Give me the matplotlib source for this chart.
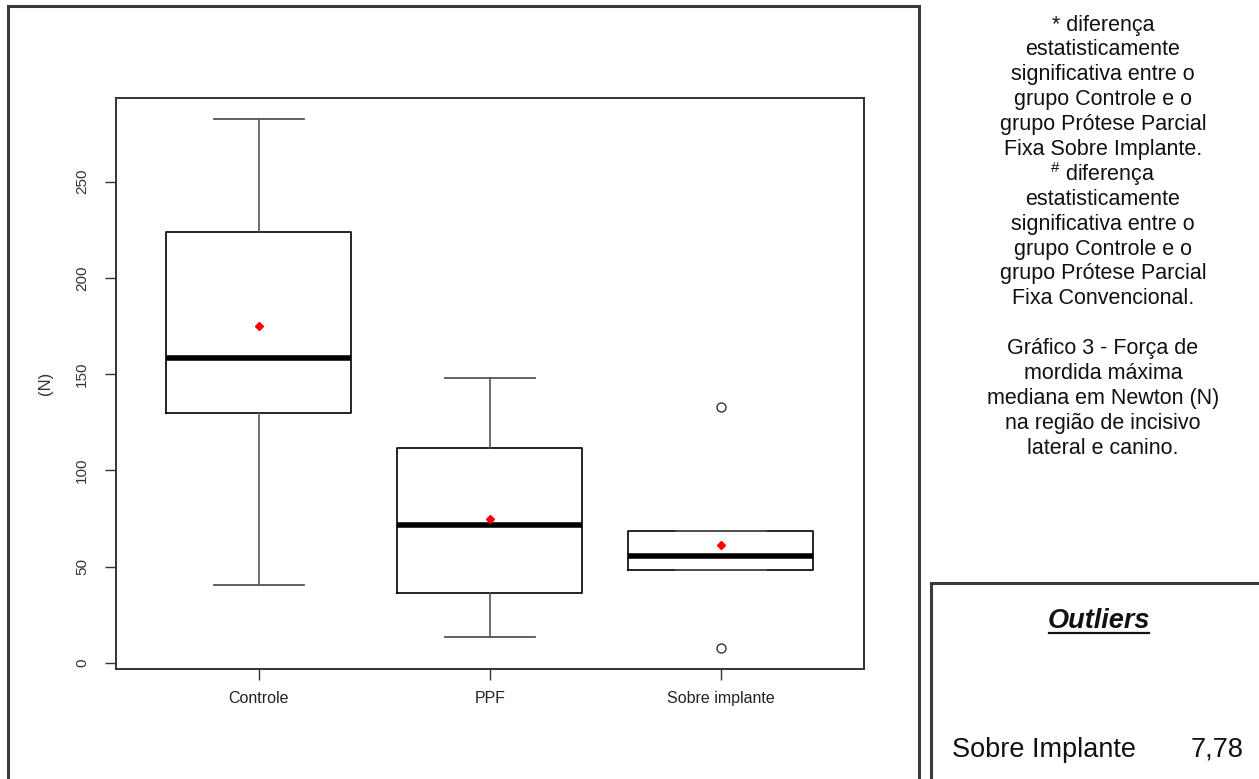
import matplotlib
matplotlib.use("Agg")
import matplotlib.pyplot as plt
from matplotlib.patches import Rectangle
from matplotlib.lines import Line2D

plt.rcParams['font.family'] = ['Liberation Sans', 'DejaVu Sans']
plt.rcParams['mathtext.fontset'] = 'custom'
plt.rcParams['mathtext.rm'] = 'Liberation Sans'

# ---- data ----
groups = ["Controle", "PPF", "Sobre implante"]
whisker_low = [40.4, 13.2, 48.4]
q1 = [129.8, 36.5, 48.4]
median = [158.3, 71.8, 55.4]
mean = [174.9, 74.6, 61.4]
q3 = [223.8, 111.4, 68.4]
whisker_high = [282.4, 148.2, 68.4]
fliers = [[], [], [133.1, 7.78]]
yticks = [0, 50, 100, 150, 200, 250]
ylabel = "(N)"

note_lines = [
    "* diferença", "estatisticamente", "significativa entre o",
    "grupo Controle e o", "grupo Prótese Parcial", "Fixa Sobre Implante.",
    "$^{\\#}$ diferença", "estatisticamente", "significativa entre o",
    "grupo Controle e o", "grupo Prótese Parcial", "Fixa Convencional.",
    "", "Gráfico 3 - Força de", "mordida máxima",
    "mediana em Newton (N)", "na região de incisivo", "lateral e canino.",
]
outlier_title = "Outliers"
outlier_group = "Sobre Implante"
outlier_value = "7,78"

W, H = 1259, 779
fig = plt.figure(figsize=(W / 100, H / 100), dpi=100)


def fx(px):
    return px / W


def fy(py):
    return 1 - py / H


# outer frame around plot
fig.patches.append(Rectangle((fx(8), fy(795)), fx(919) - fx(8), fy(6) - fy(795),
                             transform=fig.transFigure, fill=False,
                             edgecolor='#3a3a3a', linewidth=2.2, clip_on=False))
# outliers box
fig.patches.append(Rectangle((fx(931), fy(800)), fx(1270) - fx(931), fy(583) - fy(800),
                             transform=fig.transFigure, fill=False,
                             edgecolor='#3a3a3a', linewidth=2.2, clip_on=False))

ax = fig.add_axes([fx(115.6), fy(669), fx(864) - fx(115.6), fy(98) - fy(669)])

stats = []
for i, g in enumerate(groups):
    stats.append(dict(label=g, whislo=whisker_low[i], q1=q1[i], med=median[i],
                      q3=q3[i], whishi=whisker_high[i], mean=mean[i],
                      fliers=fliers[i]))

positions = list(range(1, len(groups) + 1))
ax.bxp(stats, positions=positions, widths=0.8, capwidths=0.39, showmeans=True,
       patch_artist=False,
       boxprops=dict(color='black', linewidth=1.2),
       whiskerprops=dict(color='#555555', linewidth=1.2),
       capprops=dict(color='#555555', linewidth=1.3),
       medianprops=dict(color='black', linewidth=4.0),
       meanprops=dict(marker='D', markerfacecolor='red', markeredgecolor='red',
                      markersize=4),
       flierprops=dict(marker='o', markerfacecolor='white', markeredgecolor='#333333',
                       markersize=6.5, markeredgewidth=1.0))

allv = whisker_low + whisker_high + [v for f in fliers for v in f]
lo, hi = min(allv), max(allv)
pad = (hi - lo) * 0.04
ax.set_ylim(lo - pad, hi + pad)
xpad = (len(groups) - 0) * 0.04
ax.set_xlim(0.5 - xpad, len(groups) + 0.5 + xpad)

ax.set_yticks(yticks)
ax.set_yticklabels([str(t) for t in yticks], rotation=90, va='center',
                   fontsize=11, color='#333333')
ax.set_xticks(positions)
ax.set_xticklabels(groups, fontsize=11.5, color='#222222')
ax.tick_params(axis='y', length=8, width=1.0, color='#333333', pad=11)
ax.tick_params(axis='x', length=8, width=1.0, color='#333333', pad=8)
for s in ax.spines.values():
    s.set_color('#333333')
    s.set_linewidth(1.4)
ax.set_ylabel(ylabel, fontsize=12, color='#333333', labelpad=16)

# notes text on the right
y0 = 25
pitch = 24.9
for k, line in enumerate(note_lines):
    if not line:
        continue
    fig.text(fx(1103), fy(y0 + pitch * k), line, ha='center', va='center',
             fontsize=15.5, color='#111111')

# outliers box content
fig.text(fx(1099), fy(621), outlier_title, ha='center', va='center',
         fontsize=19.5, fontweight='bold', fontstyle='italic', color='#111111')
fig.add_artist(Line2D([fx(1049), fx(1149)], [fy(632.5), fy(632.5)],
                      transform=fig.transFigure, color='#111111', linewidth=1.6))
fig.text(fx(952), fy(750), outlier_group, ha='left', va='center',
         fontsize=19.5, color='#111111')
fig.text(fx(1243), fy(750), outlier_value, ha='right', va='center',
         fontsize=19.5, color='#111111')

fig.savefig("out.png", dpi=100)
